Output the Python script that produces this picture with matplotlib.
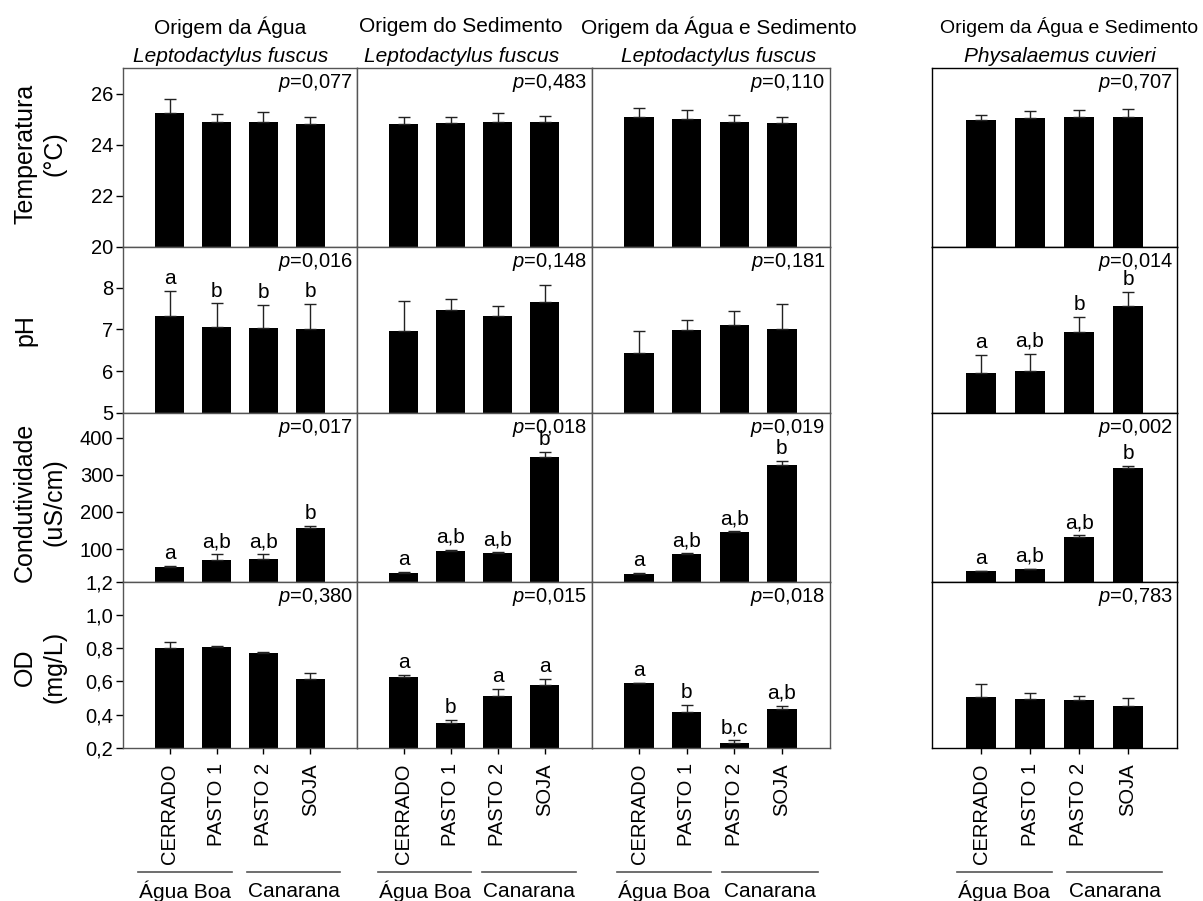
import matplotlib
matplotlib.use('Agg')
import matplotlib.pyplot as plt
import numpy as np

plt.rcParams['font.family'] = 'Liberation Sans'
plt.rcParams['mathtext.fontset'] = 'custom'
plt.rcParams['mathtext.rm'] = 'Liberation Sans'
plt.rcParams['mathtext.it'] = 'Liberation Sans:italic'

sites = ['CERRADO', 'PASTO 1', 'PASTO 2', 'SOJA']
regions = ['Água Boa', 'Canarana']
origins = ['Origem da Água', 'Origem do Sedimento',
           'Origem da Água e Sedimento', 'Origem da Água e Sedimento']
species = ['Leptodactylus fuscus', 'Leptodactylus fuscus',
           'Leptodactylus fuscus', 'Physalaemus cuvieri']
ylabels = ['Temperatura\n(°C)', 'pH', 'Condutividade\n(uS/cm)', 'OD\n(mg/L)']

# means and upper error, one list per column
temp_mean = [[25.24, 24.90, 24.90, 24.80],
             [24.80, 24.83, 24.88, 24.88],
             [25.09, 25.01, 24.88, 24.84],
             [24.95, 25.05, 25.08, 25.08]]
temp_err = [[0.56, 0.32, 0.36, 0.28],
            [0.30, 0.27, 0.35, 0.26],
            [0.36, 0.35, 0.28, 0.26],
            [0.23, 0.25, 0.26, 0.31]]

ph_mean = [[7.32, 7.05, 7.03, 7.02],
           [6.97, 7.46, 7.32, 7.66],
           [6.44, 6.98, 7.10, 7.00],
           [5.95, 6.00, 6.94, 7.55]]
ph_err = [[0.60, 0.57, 0.55, 0.58],
          [0.70, 0.27, 0.25, 0.40],
          [0.51, 0.25, 0.35, 0.61],
          [0.43, 0.42, 0.36, 0.35]]

cond_mean = [[52, 70, 74, 158],
             [36, 96, 89, 349],
             [33, 87, 146, 327],
             [40, 46, 133, 319]]
cond_err = [[2, 16, 13, 4],
            [2, 2, 2, 12],
            [2, 2, 2, 9],
            [2, 1, 5, 5]]

od_mean = [[0.802, 0.806, 0.772, 0.614],
           [0.628, 0.352, 0.514, 0.580],
           [0.588, 0.414, 0.232, 0.432],
           [0.508, 0.492, 0.486, 0.452]]
od_err = [[0.036, 0.004, 0.006, 0.038],
          [0.012, 0.016, 0.038, 0.034],
          [0.004, 0.044, 0.014, 0.022],
          [0.076, 0.038, 0.026, 0.048]]

p_temp = ['0,077', '0,483', '0,110', '0,707']
p_ph = ['0,016', '0,148', '0,181', '0,014']
p_cond = ['0,017', '0,018', '0,019', '0,002']
p_od = ['0,380', '0,015', '0,018', '0,783']

let_temp = [None, None, None, None]
let_ph = [['a', 'b', 'b', 'b'], None, None, ['a', 'a,b', 'b', 'b']]
let_cond = [['a', 'a,b', 'a,b', 'b']] * 4
let_od = [None, ['a', 'b', 'a', 'a'], ['a', 'b', 'b,c', 'a,b'], None]

rows = [(temp_mean, temp_err, p_temp, let_temp),
        (ph_mean, ph_err, p_ph, let_ph),
        (cond_mean, cond_err, p_cond, let_cond),
        (od_mean, od_err, p_od, let_od)]

ylims = [(20, 27), (5, 8.97), (13, 466), (0.2, 1.2)]
yticks = [[20, 22, 24, 26], [5, 6, 7, 8], [100, 200, 300, 400],
          [0.2, 0.4, 0.6, 0.8, 1.0, 1.2]]
yticklabels = [['20', '22', '24', '26'], ['5', '6', '7', '8'],
               ['100', '200', '300', '400'],
               ['0,2', '0,4', '0,6', '0,8', '1,0', '1,2']]

W, H = 1203, 901
fig = plt.figure(figsize=(W / 100, H / 100), dpi=100)

col_px = [(123, 357), (357, 591.5), (591.5, 829.5), (932, 1177)]
row_px = [(68, 247), (247, 413), (413, 581.5), (581.5, 748)]
x = np.arange(4)

for r, (means, errs, pvals, letters) in enumerate(rows):
    y0, y1 = row_px[r]
    for c in range(4):
        x0, x1 = col_px[c]
        ax = fig.add_axes([x0 / W, 1 - y1 / H, (x1 - x0) / W, (y1 - y0) / H])
        ax.bar(x, means[c], width=0.62, color='black', zorder=2)
        ax.errorbar(x, means[c], yerr=[np.zeros(4), errs[c]], fmt='none',
                    ecolor='#222222', elinewidth=1, capsize=4, capthick=1, zorder=3)
        ax.set_xlim(-1, 4)
        ax.set_ylim(*ylims[r])
        ax.set_yticks(yticks[r])
        ax.set_yticklabels(yticklabels[r])
        for s in ax.spines.values():
            s.set_color('black' if c == 3 else '#555555')
            s.set_linewidth(1)
        if c == 0:
            ax.tick_params(axis='y', direction='out', length=5, width=1,
                           labelsize=14.5, pad=2)
        else:
            ax.tick_params(axis='y', left=False, labelleft=False)
        if r == 3:
            ax.set_xticks(x)
            ax.set_xticklabels(sites, rotation=90, fontsize=14.5)
            ax.tick_params(axis='x', direction='out', length=4, width=1, pad=7)
        else:
            ax.set_xticks(x)
            ax.tick_params(axis='x', bottom=False, labelbottom=False)

        ax.annotate('$p$=' + pvals[c], xy=(1, 1), xycoords='axes fraction',
                    xytext=(-3, -3), textcoords='offset points',
                    ha='right', va='top', fontsize=14.5)
        if letters[c] is not None:
            for i in range(4):
                ax.annotate(letters[c][i], (x[i], means[c][i] + errs[c][i]),
                            xytext=(0, 5), textcoords='offset points',
                            ha='center', va='baseline', fontsize=15)

        if r == 3:
            groups = [[(0.064, 0.465), (0.530, 0.927)],
                      [(0.091, 0.488), (0.535, 0.935)],
                      [(0.108, 0.503), (0.550, 0.950)],
                      [(0.103, 0.488), (0.553, 0.937)]][c]
            ly = (y1 - 871.7) / (y1 - y0)
            ty = (y1 - 891.7) / (y1 - y0)
            for g, (a, b) in enumerate(groups):
                ax.plot([a, b], [ly, ly], color='#555555', lw=1.2,
                        transform=ax.transAxes, clip_on=False)
                ax.text((a + b) / 2, ty, regions[g], transform=ax.transAxes,
                        ha='center', va='center', fontsize=15)

# column headers
head_x = [(230, 231), (461, 462), (719, 719), (1069, 1060)]
head_size = [15, 15, 15, 14]
for c in range(4):
    fig.text(head_x[c][0] / W, 1 - 27 / H, origins[c], ha='center', va='center',
             fontsize=head_size[c])
    fig.text(head_x[c][1] / W, 1 - 57 / H, species[c], ha='center', va='center',
             fontsize=15, style='italic')

# row labels
label_y = [154, 330, 502, 667]
for r in range(4):
    fig.text(13 / W, 1 - label_y[r] / H, ylabels[r], rotation=90, ha='left',
             va='center', multialignment='center', fontsize=18, linespacing=1.3)

plt.savefig('out.png', dpi=100)
